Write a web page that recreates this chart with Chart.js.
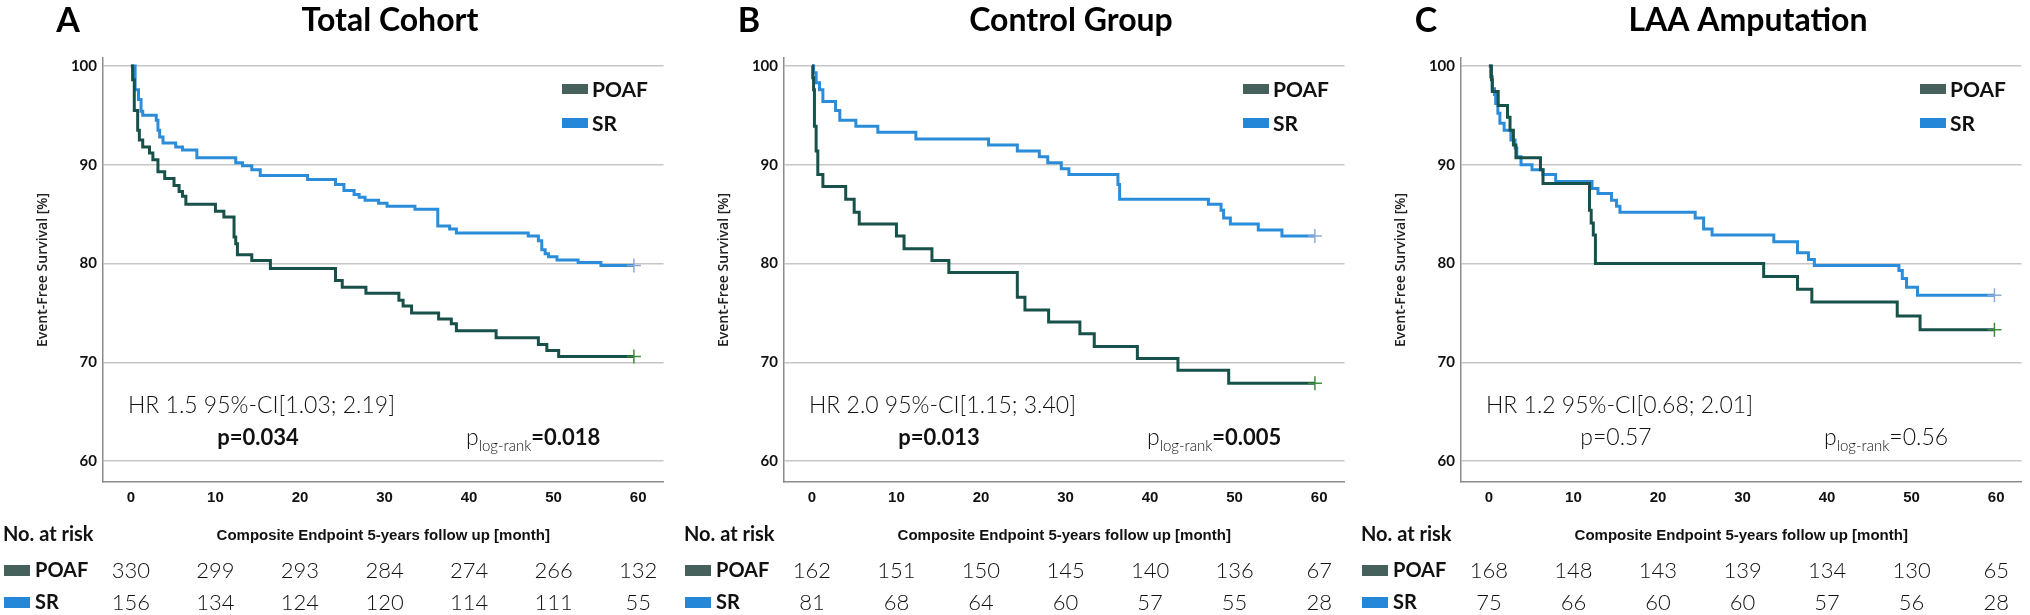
<!DOCTYPE html>
<html lang="en">
<head>
<meta charset="UTF-8">
<title>Kaplan-Meier POAF vs SR</title>
<script src="https://cdn.jsdelivr.net/npm/chart.js"></script>
<style>
    body { margin: 0; background: #fff; }
    .panel { position: absolute; top: 0; width: 672px; height: 615px; }
</style>
</head>
<body>
<div class="panel" style="left:0px"><canvas id="chartA" width="672" height="615"></canvas></div>
<div class="panel" style="left:681px"><canvas id="chartB" width="672" height="615"></canvas></div>
<div class="panel" style="left:1358px"><canvas id="chartC" width="672" height="615"></canvas></div>
<script>
// x ticks / at-risk columns (months)
const months = [0, 10, 20, 30, 40, 50, 60];
const yTicks = [60, 70, 80, 90, 100];

// Panel A - Total Cohort
const timeA_POAF = [0, 0.2, 0.4, 0.8, 1.0, 1.4, 2.2, 2.6, 3.2, 4.0, 5.1, 5.7, 6.1, 6.5, 10.0, 11.0, 12.2, 12.4, 12.6, 14.3, 16.5, 24.2, 25.0, 27.8, 31.7, 32.2, 33.2, 36.4, 37.9, 38.5, 43.2, 48.2, 49.2, 50.6, 59.5];
const survA_POAF = [100, 98.6, 95.5, 93.5, 92.5, 91.8, 91.2, 90.5, 89.3, 88.6, 87.9, 87.3, 86.8, 86.0, 85.3, 84.7, 82.7, 82.0, 80.9, 80.3, 79.5, 78.3, 77.6, 77.0, 76.3, 75.7, 75.0, 74.4, 73.9, 73.2, 72.5, 71.8, 71.2, 70.6, 70.6];
const timeA_SR = [0, 0.5, 0.9, 1.2, 1.4, 3.0, 3.2, 3.4, 3.8, 5.3, 6.1, 7.8, 12.4, 13.2, 14.3, 15.3, 20.9, 24.2, 25.2, 26.4, 27.0, 27.7, 29.3, 30.3, 33.6, 36.3, 37.7, 38.5, 47.0, 48.2, 48.6, 49.0, 49.4, 50.4, 52.9, 55.6, 59.5];
const survA_SR = [100, 97.6, 96.6, 95.4, 95.0, 94.5, 93.5, 92.8, 92.2, 91.8, 91.5, 90.7, 90.2, 89.9, 89.5, 88.9, 88.5, 88.0, 87.4, 87.0, 86.7, 86.4, 86.1, 85.8, 85.5, 83.8, 83.5, 83.1, 82.8, 82.3, 81.4, 81.0, 80.7, 80.35, 80.1, 79.8, 79.8];
const riskA_POAF = [330, 299, 293, 284, 274, 266, 132];
const riskA_SR = [156, 134, 124, 120, 114, 111, 55];

// Panel B - Control Group
const timeB_POAF = [0, 0.1, 0.2, 0.3, 0.5, 0.7, 1.3, 4.0, 5.0, 5.6, 10.0, 10.9, 14.2, 16.2, 24.3, 25.2, 28.0, 31.7, 33.4, 38.5, 43.3, 49.3, 59.5];
const survB_POAF = [100, 98.8, 97.6, 93.9, 91.4, 89.0, 87.8, 86.5, 85.2, 84.0, 82.8, 81.5, 80.3, 79.1, 76.6, 75.3, 74.1, 72.9, 71.6, 70.4, 69.2, 67.9, 67.9];
const timeB_SR = [0, 0.2, 0.5, 0.9, 1.3, 2.8, 3.3, 5.2, 7.8, 12.3, 20.9, 24.3, 26.9, 27.9, 29.5, 30.4, 36.2, 36.4, 46.9, 48.4, 48.7, 49.5, 52.8, 55.6, 59.5];
const survB_SR = [100, 99.3, 98.3, 97.6, 96.4, 95.5, 94.5, 93.9, 93.3, 92.6, 92.0, 91.4, 90.8, 90.2, 89.6, 89.0, 88.0, 86.5, 86.0, 85.4, 84.6, 84.0, 83.4, 82.8, 82.8];
const riskB_POAF = [162, 151, 150, 145, 140, 136, 67];
const riskB_SR = [81, 68, 64, 60, 57, 55, 28];

// Panel C - LAA Amputation
const timeC_POAF = [0, 0.3, 0.4, 1.1, 2.2, 2.5, 2.9, 3.2, 6.1, 6.4, 11.9, 12.1, 12.35, 12.6, 32.5, 36.5, 38.2, 48.3, 51.0, 59.8];
const survC_POAF = [100, 98.6, 97.4, 96.0, 94.8, 93.5, 92.0, 90.7, 89.5, 88.1, 85.4, 84.1, 82.9, 80.0, 78.7, 77.4, 76.1, 74.7, 73.3, 73.3];
const timeC_SR = [0, 0.2, 0.4, 0.66, 0.8, 1.06, 1.3, 1.8, 2.6, 3.1, 3.3, 3.8, 5.1, 6.4, 7.9, 12.2, 12.9, 14.5, 15.1, 15.5, 24.4, 25.4, 26.4, 33.7, 36.5, 37.8, 38.5, 48.5, 48.9, 49.4, 50.7, 59.8];
const survC_SR = [100, 98.9, 97.7, 97.1, 96.2, 95.2, 94.2, 93.5, 92.5, 91.7, 90.8, 90.0, 89.5, 89.0, 88.3, 87.6, 87.1, 86.4, 85.8, 85.2, 84.6, 83.5, 82.9, 82.2, 81.1, 80.4, 79.8, 79.3, 78.5, 77.6, 76.8, 76.8];
const riskC_POAF = [168, 148, 143, 139, 134, 130, 65];
const riskC_SR = [75, 66, 60, 60, 57, 56, 28];

const POAF_LINE = '#17514a';
const SR_LINE = '#2b8dd9';
const POAF_BOX = '#46605c';
const SR_BOX = '#2587d8';

const panels = [
    { id: 'chartA', letter: 'A', title: 'Total Cohort',
      poafT: timeA_POAF, poafS: survA_POAF, srT: timeA_SR, srS: survA_SR,
      riskP: riskA_POAF, riskS: riskA_SR,
      hr: 'HR 1.5 95%-CI[1.03; 2.19]', p: 'p=0.034', pBold: true, lr: '=0.018', lrBold: true },
    { id: 'chartB', letter: 'B', title: 'Control Group',
      poafT: timeB_POAF, poafS: survB_POAF, srT: timeB_SR, srS: survB_SR,
      riskP: riskB_POAF, riskS: riskB_SR,
      hr: 'HR 2.0 95%-CI[1.15; 3.40]', p: 'p=0.013', pBold: true, lr: '=0.005', lrBold: true },
    { id: 'chartC', letter: 'C', title: 'LAA Amputation',
      poafT: timeC_POAF, poafS: survC_POAF, srT: timeC_SR, srS: survC_SR,
      riskP: riskC_POAF, riskS: riskC_SR,
      hr: 'HR 1.2 95%-CI[0.68; 2.01]', p: 'p=0.57', pBold: false, lr: '=0.56', lrBold: false }
];

const LIGHT = "300 22px Lato, 'Open Sans', sans-serif";
const BOLD = (px) => `bold ${px}px Lato, 'Open Sans', sans-serif`;

function toPoints(t, s) {
    return t.map((v, i) => ({ x: v, y: s[i] }));
}

const textPlugin = {
    id: 'kmText',
    afterDraw(chart) {
        const p = chart.options.plugins.kmText;
        const ctx = chart.ctx;
        const xs = chart.scales.x;
        ctx.save();
        ctx.fillStyle = '#000';
        ctx.textBaseline = 'middle';

        // letter + title
        ctx.font = BOLD(34);
        ctx.textAlign = 'center';
        ctx.fillText(p.letter, 68, 21);
        ctx.font = BOLD(32);
        ctx.fillText(p.title, 390, 21);

        // y axis title
        ctx.save();
        ctx.translate(43, 270);
        ctx.rotate(-Math.PI / 2);
        ctx.font = "600 14px 'Open Sans', sans-serif";
        ctx.fillStyle = '#222';
        ctx.fillText('Event-Free Survival [%]', 0, 0);
        ctx.restore();

        // legend
        ctx.textAlign = 'left';
        ctx.font = BOLD(21);
        ctx.fillStyle = POAF_BOX;
        ctx.fillRect(562, 84, 26, 10);
        ctx.fillStyle = SR_BOX;
        ctx.fillRect(562, 118, 26, 10);
        ctx.fillStyle = '#111';
        ctx.fillText('POAF', 592, 90);
        ctx.fillText('SR', 592, 124);

        // statistics
        ctx.font = "300 23px Lato, sans-serif";
        ctx.fillText(p.hr, 128, 406);
        ctx.textAlign = 'center';
        ctx.font = p.pBold ? BOLD(22) : "300 23px Lato, sans-serif";
        ctx.fillText(p.p, 258, 438);
        ctx.textAlign = 'left';
        let x = 466;
        ctx.font = "300 23px Lato, sans-serif";
        ctx.fillText('p', x, 438);
        x += ctx.measureText('p').width;
        ctx.font = "300 15px Lato, sans-serif";
        ctx.fillText('log-rank', x, 446);
        x += ctx.measureText('log-rank').width;
        ctx.font = p.lrBold ? BOLD(22) : "300 23px Lato, sans-serif";
        ctx.fillText(p.lr, x, 438);

        // number at risk table
        ctx.font = BOLD(20);
        ctx.fillText('No. at risk', 3, 535);
        ctx.textAlign = 'center';
        ctx.font = "bold 15px 'Liberation Sans Narrow', 'Liberation Sans', sans-serif";
        ctx.fillText('Composite Endpoint 5-years follow up [month]', (chart.chartArea.left + chart.chartArea.right) / 2, 536);

        const rows = [
            { name: 'POAF', box: POAF_BOX, vals: p.riskP, y: 570 },
            { name: 'SR', box: SR_BOX, vals: p.riskS, y: 602 }
        ];
        rows.forEach(r => {
            ctx.fillStyle = r.box;
            ctx.fillRect(4, r.y - 5, 26, 11);
            ctx.fillStyle = '#111';
            ctx.textAlign = 'left';
            ctx.font = BOLD(20);
            ctx.fillText(r.name, 35, r.y + 1);
            ctx.textAlign = 'center';
            ctx.font = LIGHT;
            r.vals.forEach((v, i) => {
                ctx.fillText(String(v), xs.getPixelForValue(months[i]), r.y + 1);
            });
        });
        ctx.restore();
    }
};

function lastOnly(n, r) {
    return (c) => (c.dataIndex === n - 1 ? r : 0);
}

panels.forEach(p => {
    new Chart(document.getElementById(p.id), {
        type: 'line',
        data: {
            datasets: [
                {
                    label: 'POAF',
                    data: toPoints(p.poafT, p.poafS),
                    borderColor: POAF_LINE,
                    borderWidth: 3,
                    stepped: true,
                    pointStyle: 'cross',
                    pointRadius: lastOnly(p.poafT.length, 7),
                    pointBorderColor: '#3c8c3c',
                    pointBorderWidth: 1.5,
                    fill: false
                },
                {
                    label: 'SR',
                    data: toPoints(p.srT, p.srS),
                    borderColor: SR_LINE,
                    borderWidth: 3,
                    stepped: true,
                    pointStyle: 'cross',
                    pointRadius: lastOnly(p.srT.length, 7),
                    pointBorderColor: '#8fa9d6',
                    pointBorderWidth: 1.5,
                    fill: false
                }
            ]
        },
        options: {
            responsive: false,
            animation: false,
            layout: { padding: { top: 58, right: 2, left: 0, bottom: 0 } },
            plugins: {
                legend: { display: false },
                tooltip: { enabled: false },
                kmText: p
            },
            scales: {
                x: {
                    type: 'linear',
                    min: -3.3,
                    max: 63,
                    afterBuildTicks: s => { s.ticks = months.map(v => ({ value: v })); },
                    afterFit: s => { s.height = 133; },
                    grid: { display: false, drawTicks: false },
                    border: { display: true, color: '#8c8c8c', width: 1.5 },
                    ticks: {
                        padding: 7,
                        color: '#111',
                        font: { family: "'Liberation Sans Narrow', 'Liberation Sans', sans-serif", size: 15, weight: 'bold' }
                    }
                },
                y: {
                    min: 57.9,
                    max: 100.8,
                    afterBuildTicks: s => { s.ticks = yTicks.map(v => ({ value: v })); },
                    afterFit: s => { s.width = 103; },
                    grid: { color: '#c6c6c6', lineWidth: 1.5, drawTicks: false },
                    border: { display: true, color: '#8c8c8c', width: 1.5 },
                    ticks: {
                        padding: 6,
                        color: '#111',
                        font: { family: "Lato, 'Open Sans', sans-serif", size: 15, weight: 'bold' }
                    }
                }
            }
        },
        plugins: [textPlugin]
    });
});
</script>
</body>
</html>
